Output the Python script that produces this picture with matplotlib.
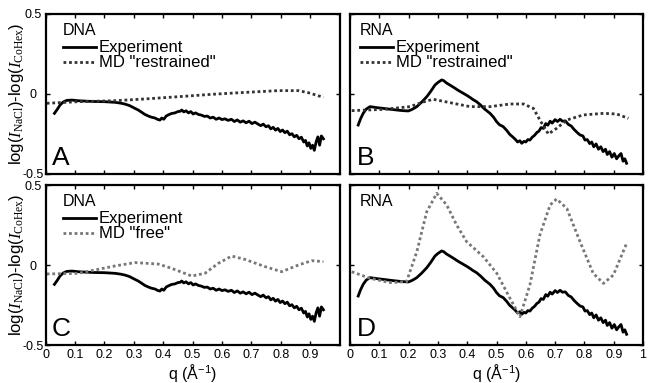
import numpy as np
import matplotlib
matplotlib.use("Agg")
import matplotlib.pyplot as plt

plt.rcParams['font.family'] = ['Liberation Sans', 'DejaVu Sans']
plt.rcParams['mathtext.fontset'] = 'custom'
plt.rcParams['mathtext.rm'] = 'Liberation Serif'
plt.rcParams['mathtext.it'] = 'Liberation Serif:italic'
plt.rcParams['mathtext.sf'] = 'Liberation Sans'

# experiment, DNA (same curve in A and C)
q_exp_dna = [0.030, 0.040, 0.049, 0.060, 0.072, 0.090, 0.111, 0.140, 0.168, 0.200,
             0.236, 0.255, 0.270, 0.285, 0.304, 0.315, 0.325, 0.338, 0.350, 0.360,
             0.372, 0.380, 0.389, 0.395, 0.402, 0.410, 0.417, 0.428, 0.440, 0.450,
             0.458, 0.463, 0.470, 0.478, 0.486, 0.494, 0.502, 0.510, 0.520, 0.530,
             0.540, 0.550, 0.560, 0.570, 0.580, 0.590, 0.600, 0.610, 0.621, 0.632,
             0.642, 0.652, 0.662, 0.672, 0.682, 0.692, 0.702, 0.712, 0.724, 0.732,
             0.740, 0.750, 0.758, 0.766, 0.774, 0.782, 0.790, 0.798, 0.806, 0.814,
             0.822, 0.830, 0.838, 0.846, 0.854, 0.862, 0.870, 0.878, 0.884, 0.890,
             0.896, 0.902, 0.908, 0.914, 0.920, 0.926, 0.932, 0.938, 0.945]
y_exp_dna = [-0.121, -0.095, -0.069, -0.050, -0.040, -0.038, -0.042, -0.045, -0.047, -0.048,
             -0.052, -0.057, -0.063, -0.072, -0.090, -0.100, -0.112, -0.128, -0.138, -0.145,
             -0.150, -0.158, -0.163, -0.150, -0.158, -0.138, -0.131, -0.122, -0.118, -0.110,
             -0.108, -0.100, -0.112, -0.105, -0.118, -0.110, -0.125, -0.118, -0.128, -0.132,
             -0.140, -0.138, -0.150, -0.145, -0.158, -0.150, -0.160, -0.155, -0.165, -0.158,
             -0.172, -0.162, -0.176, -0.168, -0.180, -0.170, -0.185, -0.176, -0.190, -0.198,
             -0.188, -0.205, -0.198, -0.218, -0.208, -0.226, -0.215, -0.235, -0.225, -0.242,
             -0.232, -0.255, -0.248, -0.268, -0.258, -0.280, -0.270, -0.300, -0.290, -0.325,
             -0.305, -0.340, -0.320, -0.352, -0.300, -0.268, -0.320, -0.262, -0.280]

# MD "restrained", DNA
q_md_dna_r = [0.004, 0.111, 0.236, 0.338, 0.451, 0.565, 0.678, 0.791, 0.860, 0.894, 0.945]
y_md_dna_r = [-0.058, -0.048, -0.042, -0.031, -0.017, -0.002, 0.010, 0.021, 0.021, 0.008, -0.021]

# MD "free", DNA
q_md_dna_f = [0.004, 0.111, 0.179, 0.236, 0.304, 0.383, 0.429, 0.497, 0.542, 0.587,
              0.633, 0.678, 0.746, 0.803, 0.860, 0.905, 0.945]
y_md_dna_f = [-0.056, -0.052, -0.027, -0.006, 0.015, 0.006, -0.021, -0.069, -0.052, 0.010,
              0.056, 0.035, -0.010, -0.042, 0.000, 0.027, 0.021]

# experiment, RNA (same curve in B and D)
q_exp_rna = [0.028, 0.036, 0.045, 0.055, 0.068, 0.080, 0.095, 0.114, 0.135, 0.159,
             0.180, 0.199, 0.210, 0.220, 0.228, 0.245, 0.262, 0.275, 0.290, 0.300,
             0.313, 0.320, 0.330, 0.341, 0.355, 0.370, 0.387, 0.400, 0.410, 0.420,
             0.432, 0.445, 0.460, 0.478, 0.490, 0.500, 0.510, 0.523, 0.535, 0.545,
             0.557, 0.565, 0.572, 0.580, 0.586, 0.594, 0.600, 0.607, 0.614, 0.622,
             0.630, 0.638, 0.645, 0.652, 0.660, 0.668, 0.675, 0.683, 0.690, 0.700,
             0.708, 0.717, 0.725, 0.735, 0.745, 0.755, 0.765, 0.775, 0.785, 0.795,
             0.802, 0.810, 0.818, 0.825, 0.832, 0.840, 0.848, 0.856, 0.864, 0.872,
             0.878, 0.886, 0.894, 0.902, 0.910, 0.918, 0.925, 0.932, 0.938, 0.944]
y_exp_rna = [-0.194, -0.155, -0.121, -0.095, -0.079, -0.082, -0.086, -0.090, -0.095, -0.100,
             -0.104, -0.106, -0.098, -0.088, -0.079, -0.050, -0.017, 0.015, 0.056, 0.072,
             0.088, 0.083, 0.068, 0.056, 0.040, 0.022, 0.004, -0.010, -0.022, -0.035,
             -0.048, -0.068, -0.095, -0.121, -0.145, -0.172, -0.192, -0.204, -0.228, -0.252,
             -0.271, -0.285, -0.300, -0.292, -0.308, -0.296, -0.300, -0.285, -0.288, -0.270,
             -0.258, -0.240, -0.232, -0.210, -0.215, -0.185, -0.195, -0.170, -0.182, -0.160,
             -0.172, -0.158, -0.170, -0.168, -0.190, -0.200, -0.222, -0.240, -0.256, -0.262,
             -0.288, -0.285, -0.310, -0.300, -0.330, -0.312, -0.345, -0.330, -0.360, -0.345,
             -0.378, -0.360, -0.395, -0.372, -0.405, -0.385, -0.372, -0.420, -0.405, -0.433]

# MD "restrained", RNA
q_md_rna_r = [0.006, 0.114, 0.205, 0.250, 0.284, 0.341, 0.410, 0.478, 0.546, 0.592,
              0.626, 0.648, 0.677, 0.705, 0.740, 0.796, 0.865, 0.910, 0.950]
y_md_rna_r = [-0.104, -0.096, -0.079, -0.050, -0.033, -0.054, -0.079, -0.079, -0.0625, -0.0625,
              -0.090, -0.1625, -0.250, -0.215, -0.1625, -0.131, -0.121, -0.125, -0.152]

# MD "free", RNA
q_md_rna_f = [0.006, 0.068, 0.137, 0.193, 0.228, 0.262, 0.296, 0.330, 0.364, 0.398,
              0.455, 0.501, 0.546, 0.580, 0.614, 0.648, 0.683, 0.705, 0.740, 0.785,
              0.830, 0.865, 0.899, 0.944]
y_md_rna_f = [-0.042, -0.083, -0.110, -0.104, 0.083, 0.333, 0.448, 0.375, 0.250, 0.146,
              0.052, -0.052, -0.208, -0.323, -0.125, 0.1875, 0.375, 0.4125, 0.354, 0.146,
              -0.052, -0.115, -0.0625, 0.135]

W, H = 652, 383
fig = plt.figure(figsize=(W / 100, H / 100), dpi=100)

axA = fig.add_axes([45.6 / W, 1 - 174 / H, 294 / W, 160 / H])
axB = fig.add_axes([350 / W, 1 - 174 / H, 293 / W, 160 / H])
axC = fig.add_axes([45.6 / W, 1 - 345 / H, 294 / W, 160 / H])
axD = fig.add_axes([350 / W, 1 - 345 / H, 293 / W, 160 / H])

ylab = r'log($I_{\mathrm{NaCl}}$)-log($I_{\mathrm{CoHex}}$)'
xlab = r'q (Å$^{\mathsf{-1}}$)'

panels = [
    (axA, 'A', 'DNA', q_exp_dna, y_exp_dna, q_md_dna_r, y_md_dna_r, 'MD "restrained"', '#333333', True),
    (axB, 'B', 'RNA', q_exp_rna, y_exp_rna, q_md_rna_r, y_md_rna_r, 'MD "restrained"', '#333333', True),
    (axC, 'C', 'DNA', q_exp_dna, y_exp_dna, q_md_dna_f, y_md_dna_f, 'MD "free"', '#777777', True),
    (axD, 'D', 'RNA', q_exp_rna, y_exp_rna, q_md_rna_f, y_md_rna_f, None, '#777777', False),
]

for ax, letter, mol, qe, ye, qm, ym, mdlab, mdcol, show_leg in panels:
    left = ax in (axA, axC)
    bottom = ax in (axC, axD)
    l1, = ax.plot(qe, ye, color='black', lw=2.0, label='Experiment')
    l2, = ax.plot(qm, ym, color=mdcol, lw=2.0, ls=(0, (1, 1)), label=mdlab)
    ax.set_xlim(0, 1)
    ax.set_ylim(-0.5, 0.5)
    ax.set_yticks([-0.5, 0, 0.5])
    if left:
        ax.set_xticks(np.arange(0, 1.0, 0.1))
        ax.set_yticklabels(['-0.5', '0', '0.5'])
        ax.set_ylabel(ylab, fontsize=12)
        ax.yaxis.set_label_coords(-0.065, 0.5)
    else:
        ax.set_xticks(np.arange(0, 1.01, 0.1))
        ax.set_yticklabels([])
    if bottom:
        ax.set_xticklabels(['0', '0.1', '0.2', '0.3', '0.4', '0.5', '0.6', '0.7', '0.8', '0.9', '1'][:len(ax.get_xticks())])
        ax.set_xlabel(xlab, fontsize=11.5)
        ax.xaxis.set_label_coords(0.5, -0.105)
    else:
        ax.set_xticklabels([])
    ax.tick_params(direction='in', length=3, width=1, top=True, right=True,
                   labelsize=9, pad=3, colors='black')
    ax.tick_params(axis='y', pad=9)
    for t in ax.get_yticklabels():
        t.set_horizontalalignment('center')
    for s in ax.spines.values():
        s.set_linewidth(1.6)

    tx = 0.059 if left else 0.034
    ax.text(tx, 0.894, mol, transform=ax.transAxes, fontsize=11.5, va='center', ha='left')
    if show_leg:
        ax.legend(handles=[l1, l2], loc='upper left', bbox_to_anchor=(tx, 0.835),
                  frameon=False, fontsize=12, borderpad=0, borderaxespad=0,
                  handlelength=2.0, handletextpad=0.15, labelspacing=0.0)
    ax.text(0.022, 0.025, letter, transform=ax.transAxes, fontsize=19,
            va='bottom', ha='left')

fig.savefig('out.png', dpi=100)
